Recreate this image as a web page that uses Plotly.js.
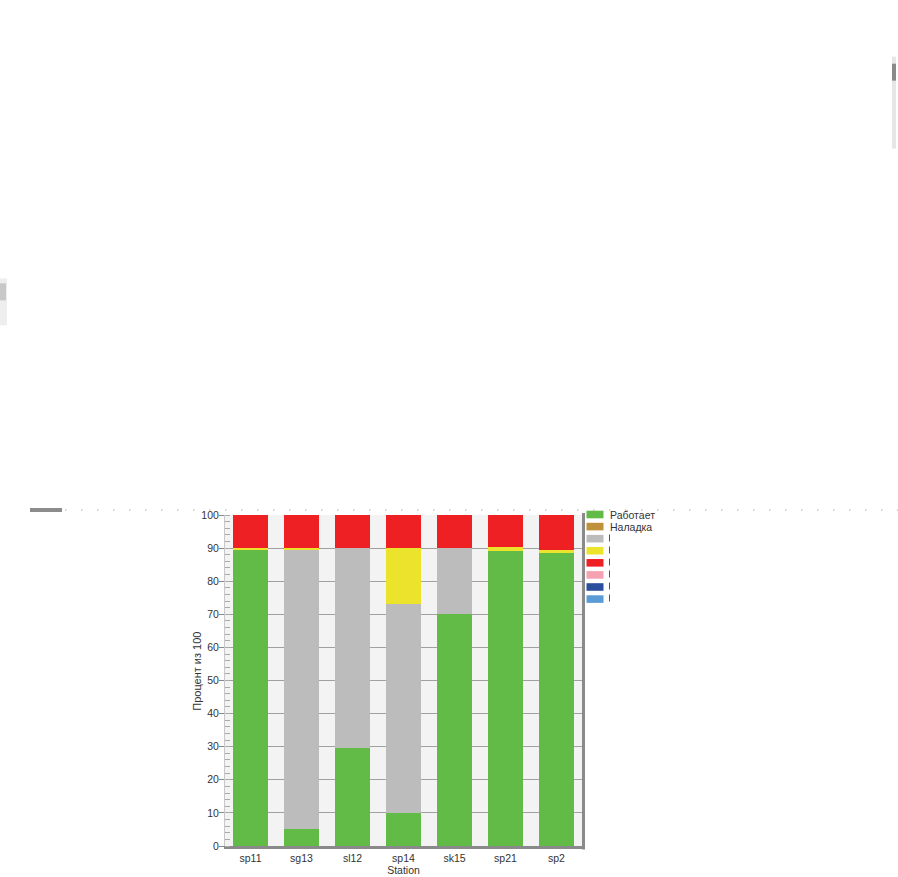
<!DOCTYPE html>
<html>
<head>
<meta charset="utf-8">
<script src="https://cdn.plot.ly/plotly-3.0.1.min.js"></script>
<style>html,body{margin:0;padding:0;background:#fff;}#chart{width:898px;height:877px;}</style>
</head>
<body>
<div id="chart"></div>
<script>
// ---- data ----
const stations = ['sp11', 'sg13', 'sl12', 'sp14', 'sk15', 'sp21', 'sp2'];
const works    = [89.5, 5, 29.5, 10, 70, 89, 88.5];     // green
const setup    = [0, 0, 0, 0, 0, 0, 0];                 // brown
const grayVals = [0, 84.5, 60.5, 63, 20, 0, 0];         // gray
const yellowV  = [0.5, 0.5, 0, 17, 0, 1.2, 1];          // yellow
const redVals  = [10, 10, 10, 10, 10, 9.8, 10.5];       // red
const pinkV    = [0, 0, 0, 0, 0, 0, 0];
const navyV    = [0, 0, 0, 0, 0, 0, 0];
const blueV    = [0, 0, 0, 0, 0, 0, 0];
const seriesNames = ['Работает', 'Наладка', '', '', '', '', '', ''];
const yTicks = [0, 10, 20, 30, 40, 50, 60, 70, 80, 90, 100];
const xTitle = 'Station';
const yTitle = 'Процент из 100';

const seriesValues = [works, setup, grayVals, yellowV, redVals, pinkV, navyV, blueV];
const colors = ['#62bb46', '#c0913b', '#bcbcbc', '#ece42c', '#ee2024', '#f5a1b1', '#2a4f9e', '#5a9bd6'];

const traces = seriesValues.map((vals, i) => ({
  type: 'bar',
  x: stations,
  y: vals,
  name: seriesNames[i] || ('s' + i),
  marker: {color: colors[i], line: {width: 0}},
  showlegend: false,
  hoverinfo: 'x+y'
}));

// pixel -> paper helpers (plot area: x 225..582, y 515..846.5)
const L = 225, R = 582, T = 515, B = 846.5;
const px = v => (v - L) / (R - L);
const py = v => (B - v) / (B - T);

const shapes = [];
const annotations = [];

// right shadow border
shapes.push({type: 'line', xref: 'paper', yref: 'paper', x0: px(583.5), x1: px(583.5), y0: py(850), y1: py(513),
  line: {color: '#8a8a8a', width: 3}});

// custom legend
colors.forEach((c, i) => {
  const cy = 514.5 + 12.1 * i;
  shapes.push({type: 'rect', xref: 'paper', yref: 'paper', x0: px(586.5), x1: px(603.5), y0: py(cy + 3.8), y1: py(cy - 3.8),
    fillcolor: c, line: {width: 0}});
  if (seriesNames[i]) {
    annotations.push({xref: 'paper', yref: 'paper', x: px(607.5), y: py(cy), xanchor: 'left', yanchor: 'middle',
      text: seriesNames[i], showarrow: false, font: {family: 'Liberation Sans, Arial, sans-serif', size: 10.5, color: '#333'}});
  }
});
// clipped legend labels edge
shapes.push({type: 'line', xref: 'paper', yref: 'paper', x0: px(609.5), x1: px(609.5), y0: py(534.5), y1: py(604),
  line: {color: '#555', width: 1, dash: '7px,5px'}});

// y-axis title
annotations.push({xref: 'paper', yref: 'paper', x: px(197), y: py(672), xanchor: 'center', yanchor: 'middle',
  text: yTitle, textangle: -90, showarrow: false, font: {family: 'Liberation Sans, Arial, sans-serif', size: 11, color: '#333'}});

// screenshot artifacts: dotted separator line and small bars
shapes.push({type: 'line', xref: 'paper', yref: 'paper', x0: px(65), x1: px(898), y0: py(510), y1: py(510),
  line: {color: '#aaaaaa', width: 1, dash: '1.5px,14.5px'}});
shapes.push({type: 'rect', xref: 'paper', yref: 'paper', x0: px(30), x1: px(62), y0: py(512), y1: py(508),
  fillcolor: '#8c8c8c', line: {width: 0}});
shapes.push({type: 'rect', xref: 'paper', yref: 'paper', x0: px(892), x1: px(896), y0: py(148), y1: py(56),
  fillcolor: '#e6e6e6', line: {width: 0}});
shapes.push({type: 'rect', xref: 'paper', yref: 'paper', x0: px(892), x1: px(896), y0: py(80), y1: py(63),
  fillcolor: '#8a8a8a', line: {width: 0}});
shapes.push({type: 'rect', xref: 'paper', yref: 'paper', x0: px(0), x1: px(7), y0: py(325), y1: py(278),
  fillcolor: '#eeeeee', line: {width: 0}});
shapes.push({type: 'rect', xref: 'paper', yref: 'paper', x0: px(0), x1: px(6), y0: py(300), y1: py(283),
  fillcolor: '#c8c8c8', line: {width: 0}});

const layout = {
  width: 898, height: 877,
  margin: {l: L, r: 898 - R, t: T, b: 877 - B, pad: 0},
  paper_bgcolor: '#ffffff',
  plot_bgcolor: '#f3f3f3',
  barmode: 'stack',
  bargap: 0.31,
  showlegend: false,
  font: {family: 'Liberation Sans, Arial, sans-serif', size: 10.5, color: '#333'},
  xaxis: {
    type: 'category',
    range: [-0.5, 6.5],
    showgrid: false,
    showline: true, linecolor: '#8a8a8a', linewidth: 3,
    ticks: '', ticklen: 0,
    tickfont: {size: 10.5, color: '#333'},
    title: {text: xTitle, font: {size: 10.5, color: '#333'}, standoff: 2},
    automargin: false, fixedrange: true
  },
  yaxis: {
    range: [0, 100],
    tickvals: yTicks,
    ticktext: yTicks.map(String),
    showgrid: true, gridcolor: '#a0a0a0', gridwidth: 1,
    showline: true, linecolor: '#c8c8c8', linewidth: 1,
    ticks: 'outside', ticklen: 5, tickcolor: '#888',
    ticklabelstandoff: -2,
    minor: {ticks: 'inside', dtick: 2, ticklen: 5, tickcolor: '#aaa', showgrid: false},
    tickfont: {size: 10.5, color: '#333'},
    zeroline: false,
    automargin: false, fixedrange: true
  },
  shapes: shapes,
  annotations: annotations
};

Plotly.newPlot('chart', traces, layout, {displayModeBar: false, staticPlot: true});
</script>
</body>
</html>
